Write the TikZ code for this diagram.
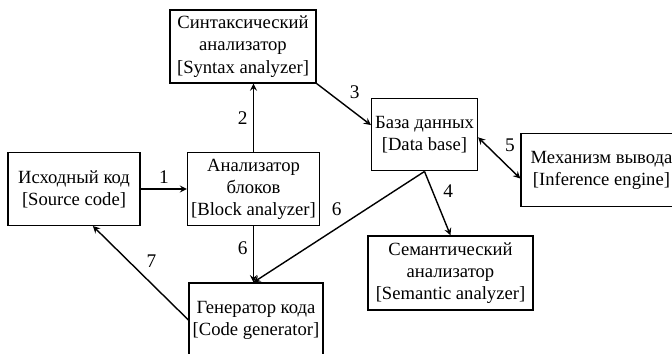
\documentclass[tikz,border=0pt]{standalone}
\usepackage{fontspec}
\setmainfont{Liberation Serif}
\usetikzlibrary{arrows}
\usetikzlibrary{positioning}

\begin{document}
\begin{tikzpicture}[on grid, auto, >=stealth,
    box/.style={draw, thick, align=center, minimum height=1.45cm, inner xsep=2pt,
                font=\fontsize{10.6}{12.6}\selectfont},
    num/.style={font=\fontsize{11}{12}\selectfont, inner sep=3pt}]
    \useasboundingbox (0,0) rectangle (13.44,-7.06);
    \node[box, minimum width=2.64cm] (source) at (1.48,-3.78) {Исходный код\\{[Source code]}};
    \node[box, minimum width=2.54cm] (block) [right=3.59cm of source] {Анализатор\\блоков\\{[Block analyzer]}};
    \node[box, minimum width=2.92cm] (syntax) [above left=2.85cm and 0.21cm of block] {Синтаксический\\анализатор\\{[Syntax analyzer]}};
    \node[box, minimum width=2.10cm] (db) [above right=1.09cm and 3.42cm of block] {База данных\\{[Data base]}};
    \node[box, minimum width=3.22cm] (engine) [below right=0.71cm and 3.54cm of db] {Механизм вывода\\{[Inference engine]}};
    \node[box, minimum width=3.30cm, minimum height=1.48cm] (semantic) [below right=2.77cm and 0.52cm of db] {Семантический\\анализатор\\{[Semantic analyzer]}};
    \node[box, minimum width=2.64cm, minimum height=1.48cm] (codegen) [below right=2.62cm and 0.05cm of block] {Генератор кода\\{[Code generator]}};
    \coordinate (sxbot) at (block.north |- syntax.south);
    \coordinate (cgtop) at (block.south |- codegen.north);

    \path[->, thick]
    (source) edge node[num] {1} (block)
    (block.north) edge node[num] {2} (sxbot)
    (syntax.south east) edge node[num] {3} (db.170)
    (db.south) edge node[num] {4} (semantic.north)
    (db.south) edge[swap] node[num, pos=0.45] {6} (cgtop)
    (block.south) edge[swap] node[num, pos=0.4] {6} (cgtop)
    (codegen.west) edge[swap] node[num] {7} (source.-63);
    \path[<->, thick]
    (db.-3) edge node[num] {5} (engine.186);
\end{tikzpicture}
\end{document}
